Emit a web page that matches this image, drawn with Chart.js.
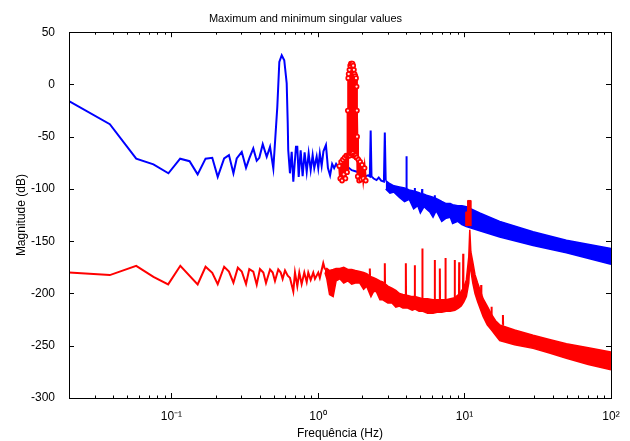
<!DOCTYPE html>
<html><head><meta charset="utf-8">
<script src="https://cdn.jsdelivr.net/npm/chart.js@4.4.1/dist/chart.umd.min.js"></script>
<style>html,body{margin:0;padding:0;background:#fff}#wrap{width:630px;height:441px}</style>
</head><body><div id="wrap"><canvas id="c" width="630" height="441"></canvas></div>
<script>
// ---- Blue: maximum singular value (low-frequency trace) ----
const blueF  = [0.02,0.038,0.0575,0.0754,0.0954,0.1147,0.133,0.151,0.171,0.19,0.207,0.229,0.247,0.265,0.279,0.302,0.323,0.34,0.362,0.382,0.398,0.42,0.447,0.471,0.496,0.528,0.545,0.566,0.589,0.612,0.622,0.627,0.644,0.662,0.679,0.708,0.723,0.739,0.762,0.786,0.811,0.838,0.864,0.892,0.92,0.944,0.98,1.005,1.03,1.06,1.09,1.134,1.17,1.21,1.25,1.29,1.33,1.37,1.41,1.45,1.5,1.55,1.6,1.7,1.8,1.9,2.0,2.1,2.2,2.26,2.29,2.32,2.4,2.51,2.6,2.7,2.82,2.86,2.9];
const blueDb = [-16,-38,-71,-76.5,-85,-71,-73.4,-86,-71,-70.2,-88.4,-70.8,-67.6,-85,-70.8,-64.5,-79.8,-70.8,-61.2,-73,-70.2,-57.1,-69.2,-59.7,-80.4,-21.4,21.6,28,23.2,1,-37,-62.8,-85,-64.5,-93,-59.7,-59.7,-88.4,-63,-87.7,-65,-83.6,-66,-81.9,-67.6,-80,-69,-80,-66,-78,-64,-58,-80,-87,-76,-80,-76,-79,-77,-80,-78,-81,-79,-82,-83,-84,-86,-88,-87,-88,-44,-88,-90,-91.5,-89,-92,-93,-46,-92];
// Blue dense band (upper / lower envelope)
const blueBandF  = [2.9,3.1,3.3,3.6,3.9,4.2,4.5,4.8,5.0,5.3,5.5,5.8,6.1,6.4,6.6,7.0,7.5,8.0,8.3,9.0,9.6,10.3,12.7,17.4,29.4,49.6,100];
const blueBandHi = [-92,-95,-97,-98,-99,-101,-102,-103,-104,-105,-106,-107,-108,-109,-110,-112,-114,-114,-115,-116,-116,-117,-123,-131,-141,-149,-157];
const blueBandLo = [-100,-104,-103,-108,-112,-110,-119,-116,-123,-117,-119,-122,-127,-121,-124,-131,-128,-127,-133,-131,-134,-136,-140,-146,-154,-161,-172];
// Blue narrow spikes on the band
const blueSpikeF    = [4.02,4.58,5.14,6.27];
const blueSpikeTop  = [-68.6,-99,-100,-106];
const blueSpikeBase = [-101,-103,-105,-109];

// ---- Red: minimum singular value ----
const redF  = [0.02,0.038,0.0575,0.0754,0.095,0.115,0.151,0.171,0.19,0.207,0.229,0.247,0.265,0.284,0.302,0.323,0.34,0.362,0.382,0.402,0.424,0.442,0.471,0.491,0.509,0.536,0.557,0.574,0.596,0.622,0.644,0.679,0.697,0.723,0.746,0.774,0.807,0.838,0.859,0.892,0.929,0.954,1.005,1.03,1.087,1.116];
const redDb = [-179.8,-182.4,-173.5,-184,-191.3,-173.5,-191.3,-174.4,-180.2,-191,-174.4,-179,-189.7,-175.3,-179,-191,-176.6,-179,-191.5,-176.6,-180,-190,-177,-180,-188,-177,-180,-186,-178,-183,-185,-198,-180,-193,-180,-191,-180,-189,-180,-187,-180,-186,-180,-185,-171,-177];
const redBandF  = [1.116,1.15,1.2,1.27,1.33,1.41,1.5,1.6,1.7,1.8,1.93,2.05,2.15,2.3,2.4,2.5,2.65,2.77,3.0,3.2,3.4,3.6,3.8,4.1,4.4,4.6,4.9,5.2,5.6,6.1,6.5,7.0,7.5,8.0,8.6,9.1,9.5,9.9,10.3,10.7,10.87,11.05,11.4,11.8,12.3,13.4,14.3,15.3,16.3,17.4,22,29.4,38,49.6,70,100];
const redBandHi = [-177,-176,-178,-177,-176,-176,-175,-177,-177,-178,-179,-180,-181,-184,-185,-186,-188,-189,-193,-195,-197,-200,-201,-202,-203,-203,-204,-205,-205,-206,-206,-206,-206,-205,-204,-201,-198,-194,-187,-165,-139,-160,-170,-182,-190,-205,-212,-220,-226,-230,-235,-240,-244,-248,-252,-256];
const redBandLo = [-180,-186,-201,-203,-188,-186,-190,-188,-191,-190,-190,-196,-193,-203,-198,-198,-206,-206,-209,-209,-213,-212,-214,-214,-216,-215,-217,-217,-219,-219,-218,-218,-217,-217,-216,-214,-212,-208,-203,-190,-172,-178,-190,-200,-208,-222,-230,-235,-240,-245,-249,-252.5,-257,-262,-268,-273];
const redSpikeF    = [2.26,2.86,3.98,4.58,5.16,6.27,6.79,7.42,8.58,9.2,9.8,13.0,15.3,18.3];
const redSpikeTop  = [-176,-171,-171,-173,-157,-168,-176,-166,-168,-170,-162,-192,-212.7,-220.6];
const redSpikeBase = [-183,-190,-203,-205,-205,-206,-206,-206,-204,-201,-196,-202,-220,-230];
// Red circle-marked resonance near 1.7 Hz
const redCircF  = [1.40,1.42,1.44,1.46,1.48,1.50,1.52,1.54,1.56,1.58,1.600,1.605,1.610,1.615,1.620,1.630,1.640,1.650,1.660,1.670,1.680,1.690,1.700,1.710,1.720,1.730,1.740,1.750,1.760,1.770,1.780,1.790,1.800,1.810,1.820,1.830,1.835,1.840,1.845,1.850,1.87,1.89,1.91,1.94,1.97,2.00,2.04,2.08,2.12];
const redCircDb = [-78,-90,-74,-92,-72,-86,-70,-90,-68,-84,-25,-68,6,-68,10,-68,14,-68,18,-66,20,-66,20,-66,20,-66,18,-68,14,-68,10,-68,8,-68,6,-70,-2,-70,-25,-50,-88,-72,-92,-74,-91,-77,-90,-80,-92];
// Red marker block near 10.5 Hz
const redMarkF  = [10.2,10.2,10.5,10.5,11.05,11.05];
const redMarkDb = [-135.5,-122,-122,-111,-111,-135.5];

// ---- Axis ticks ----
const xMajor = [0.1,1,10,100];
const xMajorLabels = ['10\u207B\u00B9','10\u2070','10\u00B9','10\u00B2'];
const yMin = -300, yMax = 50, yStep = 50;

const BLUE = '#0000ff', RED = '#ff0000';
const pts = (fs, ys) => fs.map((f, i) => ({x: f, y: ys[i]}));
function spikePts(fs, base, top) {
  const out = [];
  fs.forEach((f, i) => {
    out.push({x: f * 0.997, y: base[i]}, {x: f, y: top[i]}, {x: f * 1.003, y: base[i]}, {x: f * 1.004, y: null});
  });
  return out;
}
const xTickVals = [];
for (let e = -2; e <= 1; e++) for (let m = 1; m <= 9; m++) {
  const v = +(m * Math.pow(10, e)).toPrecision(3);
  if (v > 0.02) xTickVals.push(v);
}
xTickVals.push(100);

const lineDs = (data, color, extra) => Object.assign({
  data, borderColor: color, backgroundColor: color, borderWidth: 2,
  pointRadius: 0, fill: false, tension: 0, spanGaps: false
}, extra || {});

const boxPlugin = {
  id: 'box',
  beforeDraw(chart) {
    const c = chart.ctx; c.save(); c.fillStyle = '#fff'; c.fillRect(0, 0, chart.width, chart.height); c.restore();
  },
  afterDraw(chart) {
    const {ctx, chartArea: {left, right, top, bottom}, scales: {x, y}} = chart;
    ctx.save();
    ctx.strokeStyle = '#000'; ctx.lineWidth = 1;
    ctx.strokeRect(Math.round(left) + 0.5, Math.round(top) + 0.5, Math.round(right - left), Math.round(bottom - top));
    ctx.beginPath();
    xTickVals.forEach(v => {
      const px = Math.round(x.getPixelForValue(v)) + 0.5;
      const major = xMajor.some(m => Math.abs(m - v) < 1e-9);
      const len = major ? 5 : 2.5;
      ctx.moveTo(px, bottom); ctx.lineTo(px, bottom - len);
      ctx.moveTo(px, top); ctx.lineTo(px, top + len);
    });
    for (let v = yMin; v <= yMax; v += yStep) {
      const py = Math.round(y.getPixelForValue(v)) + 0.5;
      ctx.moveTo(left, py); ctx.lineTo(left + 5, py);
      ctx.moveTo(right, py); ctx.lineTo(right - 5, py);
    }
    ctx.stroke();
    ctx.restore();
  }
};

Chart.defaults.font.family = '"Liberation Sans", Arial, sans-serif';
Chart.defaults.color = '#000';

new Chart(document.getElementById('c'), {
  type: 'line',
  data: {
    datasets: [
      lineDs(pts(redMarkF, redMarkDb), RED, {fill: 'shape', borderWidth: 1, order: 0}),
      lineDs(pts(redCircF, redCircDb), RED, {order: 1, borderWidth: 2.5, pointRadius: 2, pointStyle: 'circle',
        pointBorderColor: RED, pointBackgroundColor: '#ffe6e6', pointBorderWidth: 1.7}),
      lineDs(pts(blueF, blueDb), BLUE, {order: 3}),
      lineDs(spikePts(blueSpikeF, blueSpikeBase, blueSpikeTop), BLUE, {order: 3}),
      lineDs(pts(blueBandF, blueBandHi), BLUE, {order: 4, fill: '+1', borderWidth: 1.5}),
      lineDs(pts(blueBandF, blueBandLo), BLUE, {order: 4, borderWidth: 1.5}),
      lineDs(pts(redF, redDb), RED, {order: 5}),
      lineDs(spikePts(redSpikeF, redSpikeBase, redSpikeTop), RED, {order: 5}),
      lineDs(pts(redBandF, redBandHi), RED, {order: 6, fill: '+1', borderWidth: 1.5}),
      lineDs(pts(redBandF, redBandLo), RED, {order: 6, borderWidth: 1.5})
    ]
  },
  options: {
    responsive: false, animation: false, devicePixelRatio: 1,
    layout: {padding: {left: 0, right: 19, top: 0, bottom: 0}},
    plugins: {
      legend: {display: false}, tooltip: {enabled: false},
      title: {display: true, text: 'Maximum and minimum singular values', color: '#000',
        font: {size: 11, weight: 'normal'}, padding: {top: 12, bottom: 7}}
    },
    scales: {
      x: {
        type: 'logarithmic', min: 0.02, max: 100, position: 'bottom',
        grid: {display: false}, border: {display: false},
        afterBuildTicks: s => { s.ticks = xTickVals.map(v => ({value: v})); },
        ticks: {autoSkip: false, maxRotation: 0, minRotation: 0, padding: 3, color: '#000', font: {size: 12},
          callback: v => { const i = xMajor.findIndex(m => Math.abs(m - v) < 1e-9); return i >= 0 ? xMajorLabels[i] : ''; }},
        title: {display: true, text: 'Frequência (Hz)', color: '#000', font: {size: 12}, padding: {top: 0, bottom: 0}},
        afterFit: s => { s.height = 43; }
      },
      y: {
        min: yMin, max: yMax,
        grid: {display: false}, border: {display: false},
        ticks: {stepSize: yStep, padding: 6, color: '#000', font: {size: 12}},
        title: {display: true, text: 'Magnitude (dB)', color: '#000', font: {size: 12}, padding: {top: 14, bottom: 0}},
        afterFit: s => { s.width = 69; }
      }
    }
  },
  plugins: [boxPlugin]
});
</script>
</body></html>
